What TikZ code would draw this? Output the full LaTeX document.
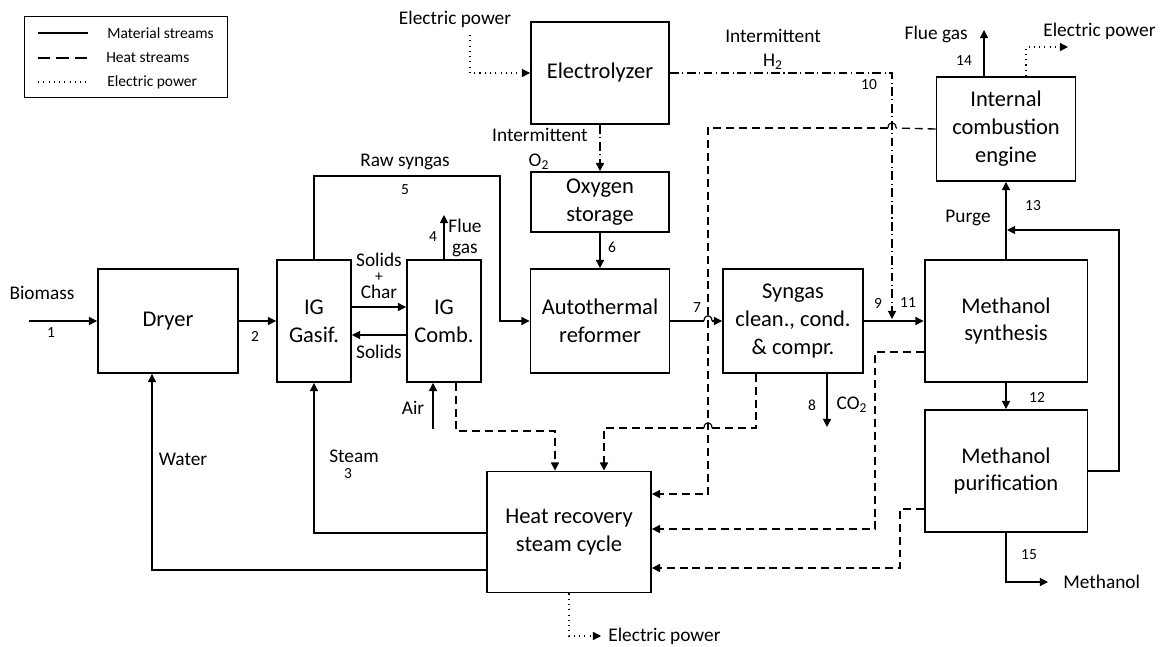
\documentclass[tikz,border=0pt]{standalone}
\usepackage{fontspec}
\setmainfont{Carlito}
\usetikzlibrary{arrows.meta}
\tikzset{
 box/.style={draw,line width=1.1pt,align=center,inner sep=1pt,font=\fontsize{12.8}{15.9}\selectfont},
 lbl/.style={inner sep=0pt,font=\fontsize{11}{11.5}\selectfont},
 num/.style={inner sep=0pt,font=\fontsize{8.8}{10}\selectfont},
 mat/.style={line width=0.65pt},
 heat/.style={line width=0.75pt,dash pattern=on 4.5pt off 2.8pt},
 hyd/.style={line width=0.7pt,dash pattern=on 5pt off 2pt on 0.6pt off 2pt},
 elc/.style={line width=0.7pt,dash pattern=on 0.6pt off 2.4pt},
 >={Triangle[length=4.6pt,width=4.6pt]}
}
\begin{document}
\begin{tikzpicture}[x=0.02cm,y=-0.02cm]
\useasboundingbox (0,0) rectangle (1168,646);
% legend
\draw[line width=0.5pt] (24,16) rectangle (227,97);
\draw[mat] (38,33)--(88,33); \draw[mat,dash pattern=on 7pt off 3.5pt] (38,58)--(88,58); \draw[elc] (38,82)--(88,82);
\node[num,anchor=west] (lgmat) at (107,33) {Material streams};
\node[num,anchor=west] (lgheat) at (106,58) {Heat streams};
\node[num,anchor=west] (lgel) at (107,82) {Electric power};
% units
\node[box,minimum width=2.8cm,minimum height=2.08cm] (dryer) at (168,321) {Dryer};
\node[box,minimum width=1.48cm,minimum height=2.44cm] (gasif) at (314,321) {IG\\Gasif.};
\node[box,minimum width=1.48cm,minimum height=2.44cm] (comb) at (444,321) {IG\\Comb.};
\node[box,minimum width=2.76cm,minimum height=2.04cm] (elec) at (600,73) {Electrolyzer};
\node[box,minimum width=2.76cm,minimum height=1.2cm] (oxy) at (600,202) {Oxygen\\storage};
\node[box,minimum width=2.78cm,minimum height=2.08cm] (atr) at (600,321) {Autothermal\\reformer};
\node[box,minimum width=2.8cm,minimum height=2.08cm] (clean) at (793,321) {Syngas\\clean., cond.\\\& compr.};
\node[box,minimum width=3.26cm,minimum height=2.44cm] (synth) at (1006,321) {Methanol\\synthesis};
\node[box,minimum width=3.26cm,minimum height=2.44cm] (purif) at (1006,471) {Methanol\\purification};
\node[box,minimum width=2.78cm,minimum height=2.08cm] (ice) at (1006,129) {Internal\\combustion\\engine};
\node[box,minimum width=3.28cm,minimum height=2.42cm] (hrsc) at (569,532) {Heat recovery\\steam cycle};
% crossings
\coordinate (hop7a) at (704,321); \coordinate (hop7b) at (712,321);
\coordinate (hopca) at (712,428); \coordinate (hopcb) at (704,428);
\coordinate (hopia) at (896,128); \coordinate (hopib) at (888,128);
% material streams
\coordinate (bio) at (29,321); \coordinate (air) at (433,429);
\draw[mat,->] (bio)--(dryer); \draw[mat,->] (dryer)--(gasif);
\draw[mat,->] (gasif.east|-0,307)--(comb.west|-0,307); \draw[mat,->] (comb.west|-0,335)--(gasif.east|-0,335);
\draw[mat,->] (comb.north)--(444,215);
\draw[mat,->] (gasif.north)|-(500,176)|-(atr.west);
\draw[mat,->] (oxy)--(atr);
\draw[mat] (atr.east)--(hop7a); \draw[mat] (hop7a) .. controls (704,314) and (712,314) .. (hop7b); \draw[mat,->] (hop7b)--(clean.west);
\draw[mat,->] (clean)--(synth);
\draw[mat,->] (clean.south-|827,0)--(827,427);
\draw[mat,->] (synth)--(purif); \draw[mat,->] (synth)--(ice);
\draw[mat,->] (purif.east)-|(1119,230)--(1007,230);
\draw[mat,->] (ice.north-|984,0)--(984,30);
\draw[mat,->] (purif.south)|-(1048,582);
\draw[mat,->] (hrsc.west|-0,533)-|(gasif.south);
\draw[mat,->] (hrsc.west|-0,570)-|(dryer.south-|152,0);
\draw[mat,->] (air)--(air|-comb.south);
% intermittent streams
\draw[hyd,->] (elec)--(oxy);
\draw[hyd,->] (elec.east)-|(892,319);
% electric power
\draw[elc,->] (470,35)|-(elec.west);
\draw[elc,->] (ice.north-|1026,0)|-(1068,47);
\draw[elc,->] (hrsc.south)|-(601,636);
% heat streams
\draw[heat,->] (comb.south-|456,0)|-(555,431)--(hrsc.north-|555,0);
\draw[heat] (clean.south-|756,0)|-(hopca); \draw[mat] (hopca) .. controls (712,421) and (704,421) .. (hopcb);
\draw[heat,->] (hopcb)-|(hrsc.north-|604,0);
\draw[heat] (ice.west)--(hopia); \draw[mat] (hopia) .. controls (896,121) and (888,121) .. (hopib);
\draw[heat,->] (hopib)-|(708,494)--(hrsc.east|-0,494);
\draw[heat,->] (synth.west|-0,352)-|(875,529)--(hrsc.east|-0,529);
\draw[heat,->] (purif.west|-0,509)-|(900,568)--(hrsc.east|-0,568);
% labels
\node[lbl] (lbio) at (42,293) {Biomass}; \node[num] (n1) at (51,333) {1}; \node[num] (n2) at (255,336) {2};
\node[lbl] (lsol1) at (379,260) {Solids}; \node[num] (lplus) at (379,277) {+}; \node[lbl] (lchar) at (379,292) {Char};
\node[lbl] (lsol2) at (379,352) {Solids};
\node[num] (n4) at (433,237) {4}; \node[lbl,align=center] (lflue) at (465,238) {Flue\\gas};
\node[lbl] (lraw) at (405,162) {Raw syngas}; \node[num] (n5) at (405,190) {5};
\node[lbl] (lep1) at (455,19) {Electric power};
\node[lbl,anchor=east] (lint1) at (588,135) {Intermittent}; \node[lbl] (lo2) at (539,162) {O\textsubscript{2}};
\node[num] (n6) at (612,247) {6}; \node[num] (n7) at (697,308) {7};
\node[lbl] (lint2) at (773,36) {Intermittent}; \node[lbl] (lh2) at (773,62) {H\textsubscript{2}};
\node[num] (n10) at (869,85) {10}; \node[num] (n9) at (878,303) {9}; \node[num] (n11) at (908,303) {11};
\node[num] (n8) at (812,405) {8}; \node[lbl] (lco2) at (852,405) {CO\textsubscript{2}};
\node[num] (n12) at (1037,397) {12}; \node[lbl] (lpurge) at (968,218) {Purge}; \node[num] (n13) at (1033,206) {13};
\node[lbl,anchor=east] (lflue2) at (968,34) {Flue gas}; \node[num] (n14) at (964,61) {14};
\node[lbl,anchor=west] (lep2) at (1043,31) {Electric power};
\node[num] (n15) at (1029,555) {15}; \node[lbl,anchor=west] (lmeoh) at (1063,582) {Methanol};
\node[lbl] (lwater) at (183,459) {Water}; \node[lbl] (lsteam) at (354,456) {Steam}; \node[num] (n3) at (348,474) {3};
\node[lbl] (lair) at (413,408) {Air};
\node[lbl,anchor=west] (lep3) at (608,636) {Electric power};
\end{tikzpicture}
\end{document}
